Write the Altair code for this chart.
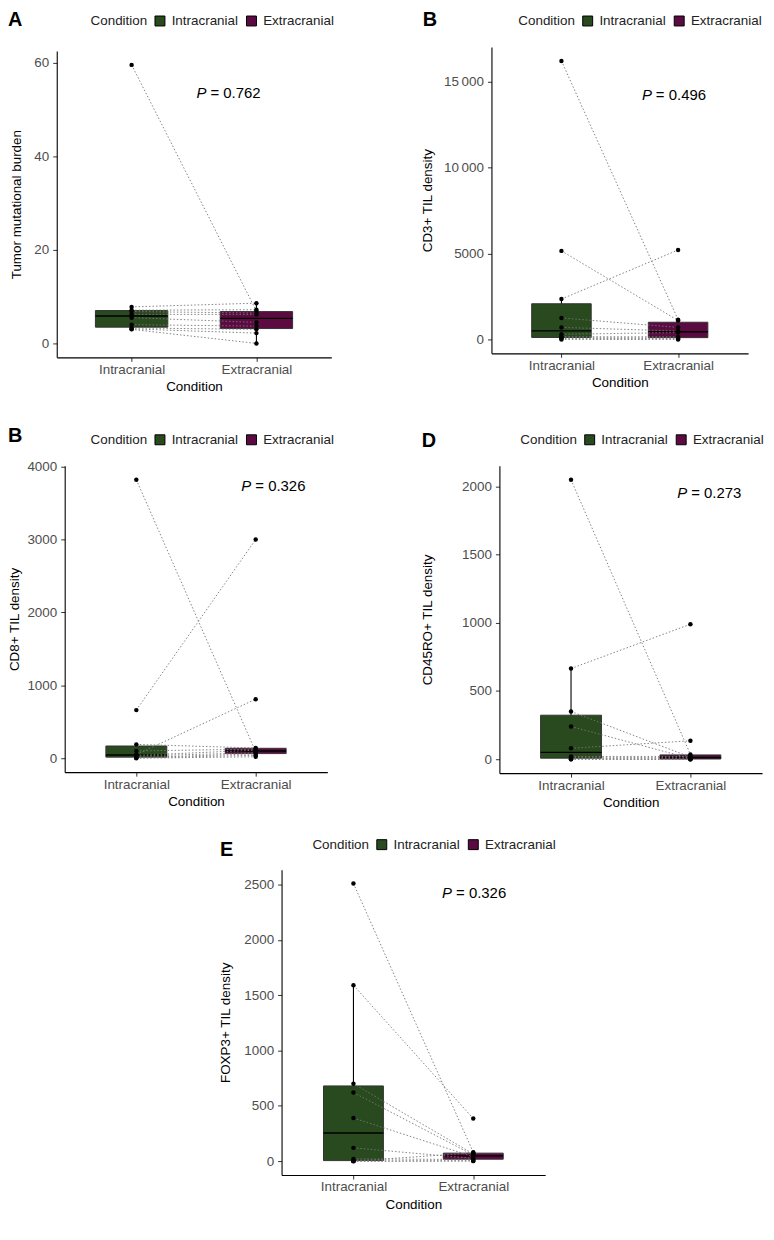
import altair as alt
import pandas as pd

conditions = ["Intracranial", "Extracranial"]
colors = ["#284a1e", "#5c0b42"]

# paired values (same index = same patient)
tmb_intra = [59.5, 7.8, 7.1, 6.8, 6.2, 5.5, 4.0, 3.3, 3.1, 3.0]
tmb_extra = [6.9, 8.6, 7.2, 6.5, 6.2, 4.5, 3.7, 3.0, 2.2, 0.0]

cd3_intra = [16200, 5150, 2350, 1250, 700, 300, 160, 100, 50, 0]
cd3_extra = [1150, 1100, 5200, 700, 490, 400, 150, 90, 40, 0]

cd8_intra = [3820, 660, 190, 100, 50, 40, 30, 10, 5, 0]
cd8_extra = [90, 3000, 140, 125, 810, 110, 75, 60, 40, 20]

cd45_intra = [2050, 665, 350, 240, 80, 20, 15, 5, 0, 0]
cd45_extra = [35, 990, 15, 5, 135, 20, 10, 0, 0, 0]

foxp3_intra = [2510, 1590, 700, 620, 390, 120, 20, 0, 0, 0]
foxp3_extra = [80, 385, 65, 55, 40, 25, 15, 5, 0, 75]

p_values = ["0.762", "0.496", "0.326", "0.273", "0.326"]
panel_letters = ["A", "B", "B", "D", "E"]
y_titles = ["Tumor mutational burden", "CD3+ TIL density", "CD8+ TIL density",
            "CD45RO+ TIL density", "FOXP3+ TIL density"]
y_ticks = [[0, 20, 40, 60], [0, 5000, 10000, 15000], [0, 1000, 2000, 3000, 4000],
           [0, 500, 1000, 1500, 2000], [0, 500, 1000, 1500, 2000, 2500]]

FONT = "Liberation Sans"
W, H = 762, 1208
x_label_expr = f"datum.value == 1 ? '{conditions[0]}' : '{conditions[1]}'"


def panel(intra, extra, letter, ytitle, pval, px, py, ticks, xr, yr, half,
          leg_xy, letter_xy, tpad, label_expr=None):
    rows = []
    for i, (a, b) in enumerate(zip(intra, extra)):
        rows.append({"pid": i, "cond": conditions[0], "pos": 1, "value": a})
        rows.append({"pid": i, "cond": conditions[1], "pos": 2, "value": b})
    df = pd.DataFrame(rows)
    vals = list(intra) + list(extra)
    lo, hi = min(vals), max(vals)
    pad = 0.05 * (hi - lo)
    ysc = alt.Scale(domain=[lo - pad, hi + pad], range=list(yr), nice=False, zero=False)
    xsc = alt.Scale(domain=[0.4, 2.6], range=list(xr), nice=False, zero=False)
    xax = alt.Axis(values=[1, 2], labelExpr=x_label_expr, title="Condition", orient="bottom",
                   offset=yr[0] - H, labelPadding=1, titlePadding=4)
    yargs = dict(values=ticks, title=ytitle, orient="left", offset=-xr[0],
                 titlePadding=tpad, labelPadding=4, format="d")
    if label_expr:
        yargs["labelExpr"] = label_expr
    yax = alt.Axis(**yargs)

    base = alt.Chart(df)
    whisk = base.transform_joinaggregate(
        q1="q1(value)", q3="q3(value)", groupby=["pos"]
    ).transform_filter(
        "datum.value >= datum.q1 - 1.5*(datum.q3-datum.q1) && datum.value <= datum.q3 + 1.5*(datum.q3-datum.q1)"
    ).transform_aggregate(
        wlo="min(value)", whi="max(value)", groupby=["pos"]
    ).mark_rule(color="black", strokeWidth=1.1).encode(
        x=alt.X("pos:Q", scale=xsc, axis=xax),
        y=alt.Y("wlo:Q", scale=ysc, axis=yax),
        y2="whi:Q",
    )
    stats = base.transform_aggregate(
        q1="q1(value)", med="median(value)", q3="q3(value)", groupby=["pos", "cond"]
    ).transform_calculate(
        xl=f"datum.pos - {half}", xr=f"datum.pos + {half}"
    )
    box = stats.mark_rect(stroke="#333333", strokeWidth=1).encode(
        x=alt.X("xl:Q", scale=xsc, axis=xax),
        x2="xr:Q",
        y=alt.Y("q1:Q", scale=ysc, axis=yax),
        y2="q3:Q",
        color=alt.Color("cond:N", scale=alt.Scale(domain=conditions, range=colors),
                        sort=conditions,
                        legend=alt.Legend(title="Condition", orient="none",
                                          legendX=leg_xy[0], legendY=leg_xy[1],
                                          direction="horizontal", titleOrient="left")),
    )
    med = stats.mark_rule(color="black", strokeWidth=1.4).encode(
        x=alt.X("xl:Q", scale=xsc, axis=xax),
        x2="xr:Q",
        y=alt.Y("med:Q", scale=ysc, axis=yax),
    )
    lines = base.mark_line(color="#777777", strokeWidth=0.9, strokeDash=[1.5, 2]).encode(
        x=alt.X("pos:Q", scale=xsc, axis=xax),
        y=alt.Y("value:Q", scale=ysc, axis=yax),
        detail="pid:N",
    )
    pts = base.mark_circle(color="black", size=20, opacity=1).encode(
        x=alt.X("pos:Q", scale=xsc, axis=xax),
        y=alt.Y("value:Q", scale=ysc, axis=yax),
    )
    pdata = alt.Data(values=[{"x": px, "y": py, "p": "P", "v": "= " + pval}])
    p1 = alt.Chart(pdata).mark_text(fontStyle="italic", fontSize=15, align="left",
                                    baseline="middle", font=FONT, color="black").encode(
        x=alt.X("x:Q", scale=xsc, axis=xax), y=alt.Y("y:Q", scale=ysc, axis=yax), text="p:N")
    p2 = alt.Chart(pdata).mark_text(fontSize=15, align="left", baseline="middle",
                                    font=FONT, dx=14, color="black").encode(
        x=alt.X("x:Q", scale=xsc, axis=xax), y=alt.Y("y:Q", scale=ysc, axis=yax), text="v:N")
    let = alt.Chart(alt.Data(values=[{"t": letter}])).mark_text(
        fontWeight="bold", fontSize=20, align="left", baseline="alphabetic", font=FONT,
        color="black").encode(x=alt.value(letter_xy[0]), y=alt.value(letter_xy[1]), text="t:N")
    return alt.layer(whisk, box, med, lines, pts, p1, p2, let)


cd3_expr = "datum.value >= 10000 ? floor(datum.value/1000) + '\u2009000' : '' + datum.value"

pA = panel(tmb_intra, tmb_extra, panel_letters[0], y_titles[0], p_values[0], 1.52, 53.5,
           y_ticks[0], (49, 325), (348, 40), 0.29, (83, 3), (0, 15), 10)
pB = panel(cd3_intra, cd3_extra, panel_letters[1], y_titles[1], p_values[1], 1.69, 14210,
           y_ticks[1], (486, 744), (344, 36), 0.255, (513, 3), (417, 15), 9, cd3_expr)
pC = panel(cd8_intra, cd8_extra, panel_letters[2], y_titles[2], p_values[2], 1.88, 3740,
           y_ticks[2], (57, 321), (765, 457), 0.255, (83, 424), (0, 433), 5)
pD = panel(cd45_intra, cd45_extra, panel_letters[3], y_titles[3], p_values[3], 1.89, 1949,
           y_ticks[3], (494, 758), (766, 457), 0.255, (515, 424), (416, 438), 27)
pE = panel(foxp3_intra, foxp3_extra, panel_letters[4], y_titles[4], p_values[4], 1.74, 2420,
           y_ticks[4], (275, 540), (1170, 863), 0.25, (306, 831), (213, 849), 11)

chart = alt.layer(pA, pB, pC, pD, pE).resolve_scale(
    x="independent", y="independent", color="independent"
).resolve_axis(x="independent", y="independent").resolve_legend(
    color="independent"
).properties(
    width=W, height=H,
    padding={"left": 0, "top": 0, "right": 0, "bottom": 0},
    autosize=alt.AutoSizeParams(type="none")
).configure_view(
    stroke=None).configure_axis(
    labelFont=FONT, titleFont=FONT, labelFontSize=13.5, titleFontSize=13.5,
    titleFontWeight="normal", labelColor="#4d4d4d", titleColor="black",
    domainColor="black", domainWidth=1.1, tickColor="#333333", tickSize=4, grid=False
).configure_legend(
    labelFont=FONT, titleFont=FONT, labelFontSize=13.5, titleFontSize=13.5,
    titleFontWeight="normal", labelColor="#222222", titleColor="#222222",
    symbolType="square", symbolSize=100, symbolStrokeColor="black", symbolStrokeWidth=1,
    titlePadding=5, labelOffset=5, columnPadding=5
).configure_text(font=FONT)

chart.save("out.html", embed_options={"renderer": "svg", "actions": False})
